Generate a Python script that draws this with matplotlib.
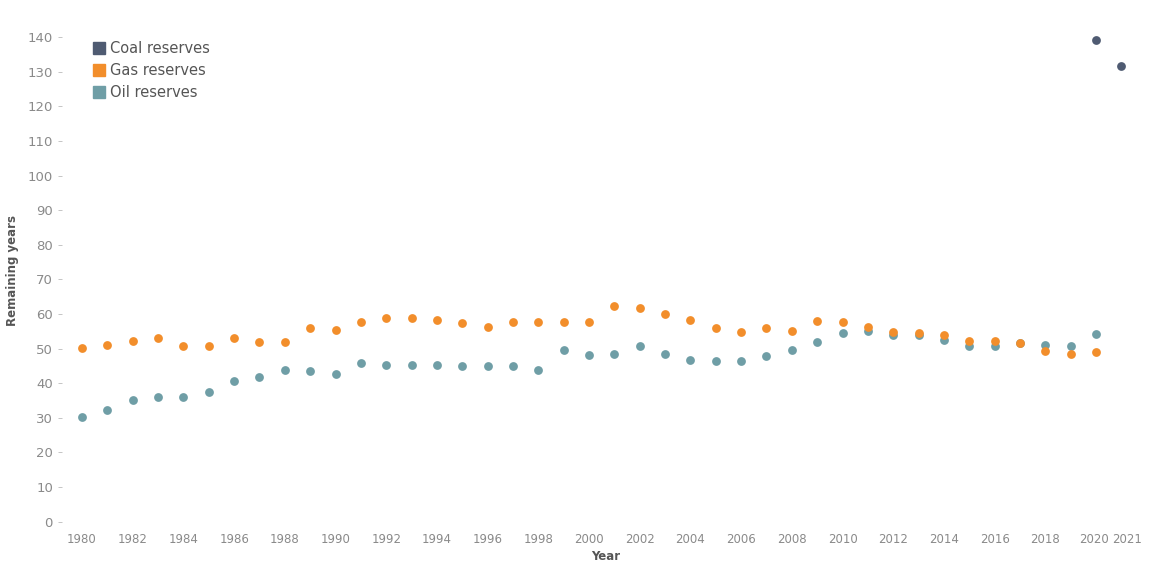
import matplotlib
matplotlib.use('Agg')
import matplotlib.pyplot as plt
import matplotlib.transforms as mtransforms
from matplotlib.lines import Line2D

## donnees

years = list(range(1980, 2021))

gas_reserves = [50.2, 50.9, 52.3, 53.1, 50.8, 50.8, 53.1, 51.8, 51.8, 55.9,
                55.5, 57.6, 58.8, 58.8, 58.3, 57.3, 56.2, 57.7, 57.7, 57.7,
                57.8, 62.4, 61.6, 59.9, 58.3, 56.0, 54.9, 56.0, 55.1, 57.9,
                57.7, 56.3, 54.9, 54.4, 53.9, 52.2, 52.3, 51.7, 49.4, 48.4,
                49.1]

oil_reserves = [30.2, 32.3, 35.1, 36.1, 36.1, 37.5, 40.6, 41.8, 43.9, 43.4,
                42.7, 45.8, 45.3, 45.2, 45.2, 45.0, 45.0, 45.0, 43.7, 49.5,
                48.2, 48.4, 50.8, 48.4, 46.8, 46.4, 46.4, 47.8, 49.5, 51.9,
                54.5, 55.2, 54.0, 53.8, 52.5, 50.8, 50.8, 51.6, 51.0, 50.7,
                54.1]

coal_years = [2020, 2021]
coal_reserves = [139.2, 131.7]

xticks = list(range(1980, 2021, 2)) + [2021]
yticks = list(range(0, 141, 10))

COAL = '#4f5b72'
GAS = '#f28e2b'
OIL = '#6f9ea6'

## figure

fig = plt.figure(figsize=(11.57, 5.63), dpi=100)
ax = fig.add_axes([62/1157, 1 - 525/563, (1150-62)/1157, (525-15)/563])

ax.scatter(years, oil_reserves, s=40, color=OIL, linewidths=0, zorder=3)
ax.scatter(years, gas_reserves, s=40, color=GAS, linewidths=0, zorder=4)
ax.scatter(coal_years, coal_reserves, s=40, color=COAL, linewidths=0, zorder=5)

ax.set_xlim(1979.21, 2022.13)
ax.set_ylim(-1, 146.4)
ax.set_xticks(xticks)
ax.set_yticks(yticks)
ax.tick_params(axis='y', colors='#bbbbbb', labelcolor='#8a8a8a',
               labelsize=9.5, length=3, width=0.6)
ax.tick_params(axis='x', colors='#bbbbbb', labelcolor='#8a8a8a',
               labelsize=8.5, length=0, pad=6)

# petit decalage des deux dernieres etiquettes (2020 / 2021) pour eviter le chevauchement
labs = ax.get_xticklabels()
labs[-2].set_transform(labs[-2].get_transform() + mtransforms.ScaledTranslation(-2/100, 0, fig.dpi_scale_trans))
labs[-1].set_transform(labs[-1].get_transform() + mtransforms.ScaledTranslation(6/100, 0, fig.dpi_scale_trans))

for s in ax.spines.values():
    s.set_visible(False)

ax.set_xlabel('Year', fontsize=8.5, fontweight='bold', color='#555555', labelpad=3)
ax.set_ylabel('Remaining years', fontsize=8.5, fontweight='bold', color='#555555', labelpad=6)

# legende
handles = [Line2D([0], [0], marker='s', linestyle='none', markersize=8, color=c)
           for c in (COAL, GAS, OIL)]
leg = ax.legend(handles, ['Coal reserves', 'Gas reserves', 'Oil reserves'],
                loc='upper left', bbox_to_anchor=(0.015, 0.975), frameon=False,
                fontsize=10.5, handletextpad=0.3, labelspacing=0.5,
                handlelength=1.0)
for t in leg.get_texts():
    t.set_color('#555555')

fig.savefig('out.png', dpi=100, facecolor='white')
